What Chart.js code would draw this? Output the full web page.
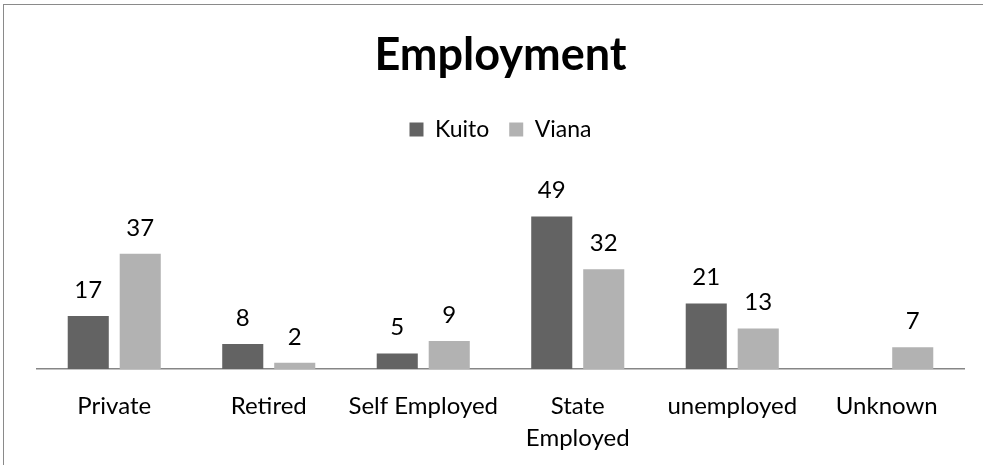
<!DOCTYPE html>
<html><head><meta charset="utf-8">
<script src="https://cdn.jsdelivr.net/npm/chart.js@4/dist/chart.umd.min.js"></script>
<style>
html,body{margin:0;padding:0;background:#fff;}
#wrap{position:relative;width:983px;height:465px;}
#frame{position:absolute;left:3px;top:4px;right:0;bottom:0;border-top:1px solid #8a8a8a;border-left:1px solid #8a8a8a;}
canvas{position:absolute;left:0;top:0;}
</style></head>
<body><div id="wrap"><div id="frame"></div><canvas id="c" width="983" height="465"></canvas></div>
<script>
const categories = ["Private", "Retired", "Self Employed", ["State", "Employed"], "unemployed", "Unknown"];
const kuito = [17, 8, 5, 49, 21, null];
const viana = [37, 2, 9, 32, 13, 7];
const seriesNames = ["Kuito", "Viana"];
const FONT = "Lato, 'Open Sans', sans-serif";

const valueLabels = {
  id: 'valueLabels',
  afterDatasetsDraw(chart) {
    const ctx = chart.ctx;
    ctx.save();
    ctx.font = "24px " + FONT;
    ctx.fillStyle = "#000";
    ctx.textAlign = "center";
    ctx.textBaseline = "middle";
    chart.data.datasets.forEach((ds, i) => {
      chart.getDatasetMeta(i).data.forEach((bar, j) => {
        const v = ds.data[j];
        if (v === null || v === undefined) return;
        ctx.fillText(String(v), bar.x, bar.y - 26);
      });
    });
    ctx.restore();
  }
};

new Chart(document.getElementById('c'), {
  type: 'bar',
  data: {
    labels: categories,
    datasets: [
      { label: seriesNames[0], data: kuito, backgroundColor: "#636363", barPercentage: 0.79, categoryPercentage: 0.673 },
      { label: seriesNames[1], data: viana, backgroundColor: "#b2b2b2", barPercentage: 0.79, categoryPercentage: 0.673 }
    ]
  },
  options: {
    responsive: false,
    animation: false,
    layout: { padding: { left: 37, right: 19, top: 24, bottom: 0 } },
    plugins: {
      title: { display: true, text: "Employment", color: "#000", font: { family: FONT, size: 45, weight: "bold" }, padding: { top: 4, bottom: 16 } },
      legend: { display: true, labels: { color: "#000", font: { family: FONT, size: 23 }, boxWidth: 14, boxHeight: 14, padding: 20 } },
      tooltip: { enabled: false }
    },
    scales: {
      x: {
        grid: { display: false, drawTicks: false },
        border: { display: true, color: "#868686", width: 1.5 },
        ticks: { color: "#000", font: { family: FONT, size: 24, lineHeight: 1.3 }, padding: 22, maxRotation: 0, autoSkip: false },
        afterFit(scale) { scale.height = 96; }
      },
      y: { display: false, min: 0, max: 70 }
    }
  },
  plugins: [valueLabels]
});
</script></body></html>
